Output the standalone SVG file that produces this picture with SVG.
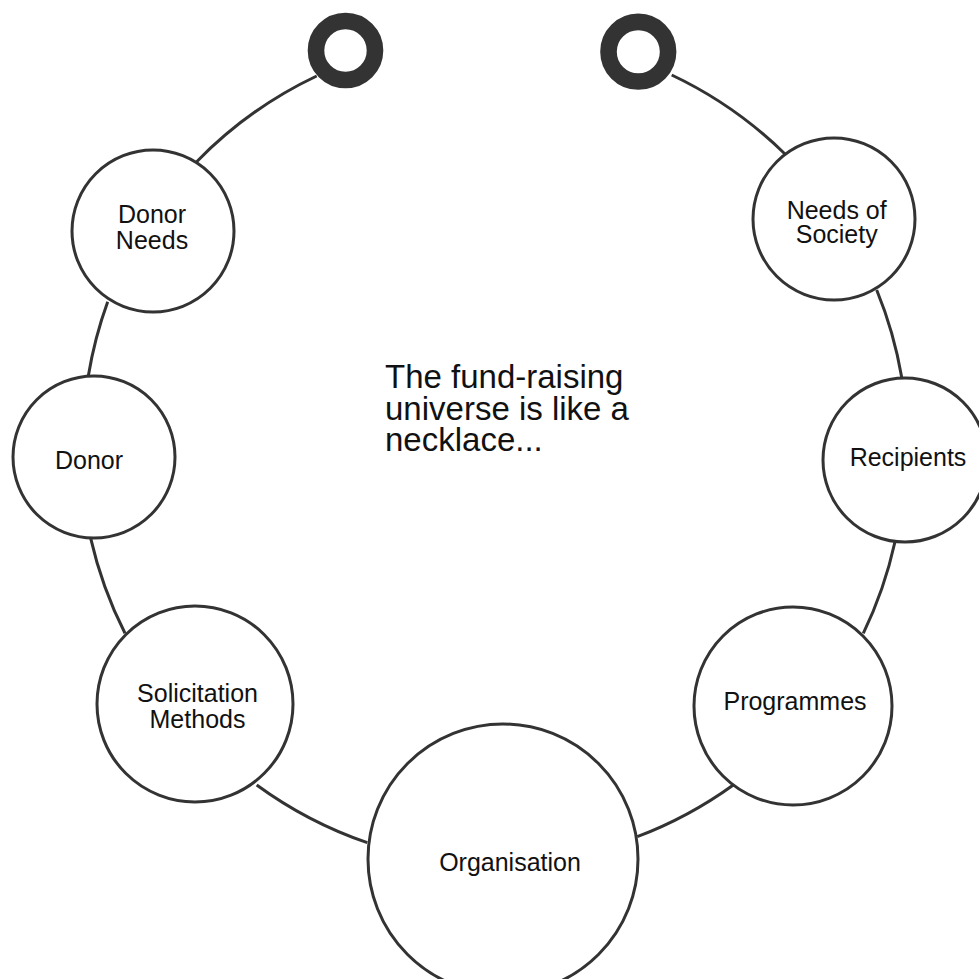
<svg xmlns="http://www.w3.org/2000/svg" width="979" height="979" viewBox="0 0 979 979">
  <style>
    .bead { fill: #ffffff; stroke: #333333; stroke-width: 3; }
    .clasp { fill: #ffffff; stroke: #333333; stroke-width: 16.6; }
    .link { fill: none; stroke: #333333; stroke-width: 3; }
    .label { font-family: "Liberation Sans", Arial, sans-serif; font-size: 25px; fill: #111111; text-anchor: middle; }
    .title { font-family: "Liberation Sans", Arial, sans-serif; font-size: 33px; fill: #111111; }
  </style>
  <rect width="979" height="979" fill="#ffffff"/>

  <!-- string of the necklace: arcs between neighbouring beads -->
  <g id="connectors">
    <path class="link" d="M316.7,76 A415,415 0 0 0 196.7,161.7"/>
    <path class="link" d="M107.7,301.7 A415,415 0 0 0 88.3,376"/>
    <path class="link" d="M90.7,538.3 A415,415 0 0 0 125,633.3"/>
    <path class="link" d="M256.7,785 A415,415 0 0 0 367.3,842.7"/>
    <path class="link" d="M637.3,836.7 A415,415 0 0 0 733.3,785"/>
    <path class="link" d="M863.3,633.3 A415,415 0 0 0 895,541.7"/>
    <path class="link" d="M901.7,377.3 A415,415 0 0 0 876.7,290"/>
    <path class="link" d="M785,154 A415,415 0 0 0 671.7,75"/>
  </g>

  <!-- clasp rings -->
  <g id="clasp-left">
    <circle class="clasp" cx="345.5" cy="50.5" r="29.5"/>
  </g>
  <g id="clasp-right">
    <circle class="clasp" cx="638.3" cy="51.7" r="29.8"/>
  </g>

  <!-- beads -->
  <g id="donor-needs">
    <circle class="bead" cx="153" cy="231" r="81"/>
    <text class="label" x="152" y="223">Donor</text>
    <text class="label" x="152" y="249">Needs</text>
  </g>
  <g id="donor">
    <circle class="bead" cx="94" cy="457" r="81"/>
    <text class="label" x="89" y="469">Donor</text>
  </g>
  <g id="solicitation-methods">
    <circle class="bead" cx="195" cy="704" r="98"/>
    <text class="label" x="197.5" y="702">Solicitation</text>
    <text class="label" x="197.5" y="728">Methods</text>
  </g>
  <g id="organisation">
    <circle class="bead" cx="503" cy="859" r="135"/>
    <text class="label" x="510" y="871">Organisation</text>
  </g>
  <g id="programmes">
    <circle class="bead" cx="793" cy="706" r="99"/>
    <text class="label" x="795" y="710">Programmes</text>
  </g>
  <g id="recipients">
    <circle class="bead" cx="905" cy="460" r="82"/>
    <text class="label" x="908" y="466">Recipients</text>
  </g>
  <g id="needs-of-society">
    <circle class="bead" cx="834" cy="219" r="81"/>
    <text class="label" x="836.7" y="219">Needs of</text>
    <text class="label" x="836.7" y="243">Society</text>
  </g>

  <!-- caption in the middle of the necklace -->
  <g id="caption">
    <text class="title" x="385" y="388">The fund-raising</text>
    <text class="title" x="385" y="420">universe is like a</text>
    <text class="title" x="385" y="451">necklace...</text>
  </g>
</svg>
